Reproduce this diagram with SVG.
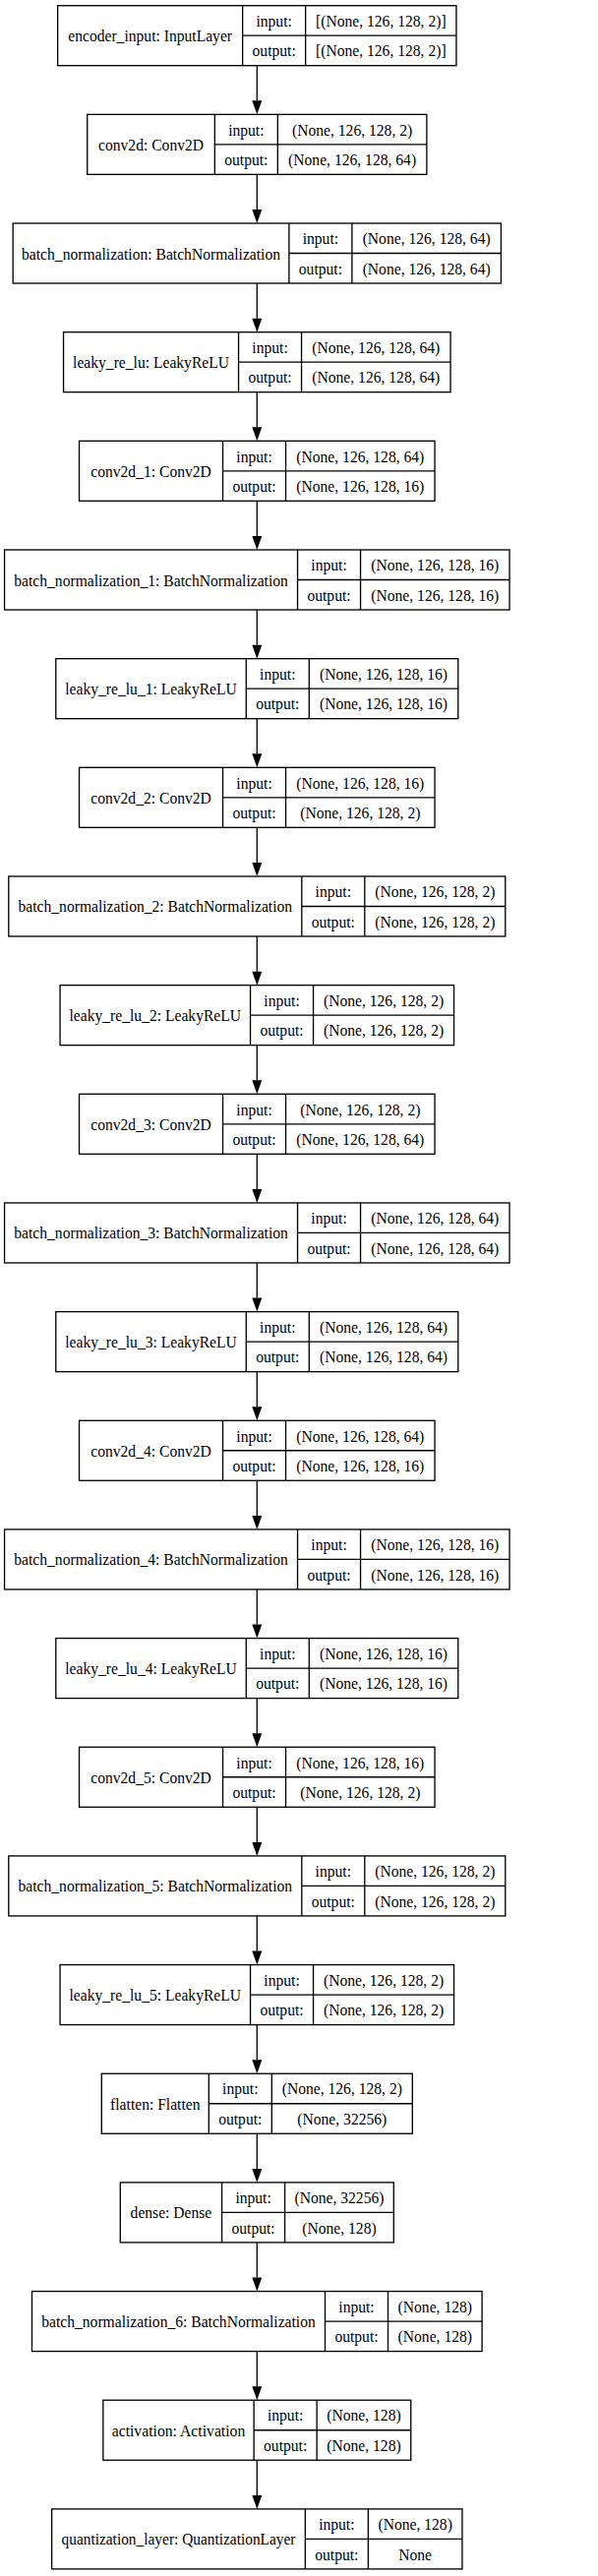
<svg xmlns="http://www.w3.org/2000/svg" width="608" height="2619" viewBox="0 0 608 2619">
<style>
rect{fill:#fff;stroke:#000;stroke-width:1.33}
g.n path{fill:none;stroke:#000;stroke-width:1.33}
text{font-family:"Liberation Serif","Times New Roman",serif;font-size:17px;text-anchor:middle;fill:#000}
#edges line{stroke:#000;stroke-width:1.33}
</style>
<defs>
<marker id="ah" markerUnits="userSpaceOnUse" viewBox="-1 -1 16 12" markerWidth="16" markerHeight="12" refX="0" refY="4.67" orient="auto">
<path d="M0,-0.3 L14,4.67 L0,9.64 Z" fill="#000"/>
</marker>
</defs>
<rect x="0" y="0" width="608" height="2619" style="stroke:none"/>
<g id="edges">
<line x1="261.3" y1="66.7" x2="261.3" y2="102.36" marker-end="url(#ah)"/>
<line x1="261.3" y1="177.36" x2="261.3" y2="213.02" marker-end="url(#ah)"/>
<line x1="261.3" y1="288.02" x2="261.3" y2="323.68" marker-end="url(#ah)"/>
<line x1="261.3" y1="398.68" x2="261.3" y2="434.34" marker-end="url(#ah)"/>
<line x1="261.3" y1="509.34" x2="261.3" y2="545.0" marker-end="url(#ah)"/>
<line x1="261.3" y1="620.0" x2="261.3" y2="655.66" marker-end="url(#ah)"/>
<line x1="261.3" y1="730.66" x2="261.3" y2="766.32" marker-end="url(#ah)"/>
<line x1="261.3" y1="841.32" x2="261.3" y2="876.98" marker-end="url(#ah)"/>
<line x1="261.3" y1="951.98" x2="261.3" y2="987.64" marker-end="url(#ah)"/>
<line x1="261.3" y1="1062.64" x2="261.3" y2="1098.3" marker-end="url(#ah)"/>
<line x1="261.3" y1="1173.3" x2="261.3" y2="1208.96" marker-end="url(#ah)"/>
<line x1="261.3" y1="1283.96" x2="261.3" y2="1319.62" marker-end="url(#ah)"/>
<line x1="261.3" y1="1394.62" x2="261.3" y2="1430.28" marker-end="url(#ah)"/>
<line x1="261.3" y1="1505.28" x2="261.3" y2="1540.94" marker-end="url(#ah)"/>
<line x1="261.3" y1="1615.94" x2="261.3" y2="1651.6" marker-end="url(#ah)"/>
<line x1="261.3" y1="1726.6" x2="261.3" y2="1762.26" marker-end="url(#ah)"/>
<line x1="261.3" y1="1837.26" x2="261.3" y2="1872.92" marker-end="url(#ah)"/>
<line x1="261.3" y1="1947.92" x2="261.3" y2="1983.58" marker-end="url(#ah)"/>
<line x1="261.3" y1="2058.58" x2="261.3" y2="2094.24" marker-end="url(#ah)"/>
<line x1="261.3" y1="2169.24" x2="261.3" y2="2204.9" marker-end="url(#ah)"/>
<line x1="261.3" y1="2279.9" x2="261.3" y2="2315.56" marker-end="url(#ah)"/>
<line x1="261.3" y1="2390.56" x2="261.3" y2="2426.22" marker-end="url(#ah)"/>
<line x1="261.3" y1="2501.22" x2="261.3" y2="2536.88" marker-end="url(#ah)"/>
</g>

<g id="encoder_input" class="n" transform="translate(0,5.7)">
<rect x="58.65" y="0" width="405.3" height="61"/>
<path d="M246.65,0V61M310.65,0V61M246.65,30.5H463.95"/>
<text x="152.65" y="36.5" textLength="166.8" lengthAdjust="spacingAndGlyphs">encoder_input: InputLayer</text>
<text x="278.65" y="21.25" textLength="36.4" lengthAdjust="spacingAndGlyphs">input:</text>
<text x="278.65" y="51.75" textLength="44.2" lengthAdjust="spacingAndGlyphs">output:</text>
<text x="387.3" y="21.25" textLength="132.6" lengthAdjust="spacingAndGlyphs">[(None, 126, 128, 2)]</text>
<text x="387.3" y="51.75" textLength="132.6" lengthAdjust="spacingAndGlyphs">[(None, 126, 128, 2)]</text>
</g>

<g id="conv2d" class="n" transform="translate(0,116.36)">
<rect x="88.75" y="0" width="345.1" height="61"/>
<path d="M218.35,0V61M282.35,0V61M218.35,30.5H433.85"/>
<text x="153.55" y="36.5" textLength="107" lengthAdjust="spacingAndGlyphs">conv2d: Conv2D</text>
<text x="250.35" y="21.25" textLength="36.4" lengthAdjust="spacingAndGlyphs">input:</text>
<text x="250.35" y="51.75" textLength="44.2" lengthAdjust="spacingAndGlyphs">output:</text>
<text x="358.1" y="21.25" textLength="122.2" lengthAdjust="spacingAndGlyphs">(None, 126, 128, 2)</text>
<text x="358.1" y="51.75" textLength="130" lengthAdjust="spacingAndGlyphs">(None, 126, 128, 64)</text>
</g>

<g id="batch_normalization" class="n" transform="translate(0,227.02)">
<rect x="13.2" y="0" width="496.2" height="61"/>
<path d="M293.9,0V61M357.9,0V61M293.9,30.5H509.4"/>
<text x="153.55" y="36.5" textLength="263" lengthAdjust="spacingAndGlyphs">batch_normalization: BatchNormalization</text>
<text x="325.9" y="21.25" textLength="36.4" lengthAdjust="spacingAndGlyphs">input:</text>
<text x="325.9" y="51.75" textLength="44.2" lengthAdjust="spacingAndGlyphs">output:</text>
<text x="433.65" y="21.25" textLength="130" lengthAdjust="spacingAndGlyphs">(None, 126, 128, 64)</text>
<text x="433.65" y="51.75" textLength="130" lengthAdjust="spacingAndGlyphs">(None, 126, 128, 64)</text>
</g>

<g id="leaky_re_lu" class="n" transform="translate(0,337.68)">
<rect x="64.55" y="0" width="393.5" height="61"/>
<path d="M242.55,0V61M306.55,0V61M242.55,30.5H458.05"/>
<text x="153.55" y="36.5" textLength="159" lengthAdjust="spacingAndGlyphs">leaky_re_lu: LeakyReLU</text>
<text x="274.55" y="21.25" textLength="36.4" lengthAdjust="spacingAndGlyphs">input:</text>
<text x="274.55" y="51.75" textLength="44.2" lengthAdjust="spacingAndGlyphs">output:</text>
<text x="382.3" y="21.25" textLength="130" lengthAdjust="spacingAndGlyphs">(None, 126, 128, 64)</text>
<text x="382.3" y="51.75" textLength="130" lengthAdjust="spacingAndGlyphs">(None, 126, 128, 64)</text>
</g>

<g id="conv2d_1" class="n" transform="translate(0,448.34)">
<rect x="80.55" y="0" width="361.5" height="61"/>
<path d="M226.55,0V61M290.55,0V61M226.55,30.5H442.05"/>
<text x="153.55" y="36.5" textLength="122.6" lengthAdjust="spacingAndGlyphs">conv2d_1: Conv2D</text>
<text x="258.55" y="21.25" textLength="36.4" lengthAdjust="spacingAndGlyphs">input:</text>
<text x="258.55" y="51.75" textLength="44.2" lengthAdjust="spacingAndGlyphs">output:</text>
<text x="366.3" y="21.25" textLength="130" lengthAdjust="spacingAndGlyphs">(None, 126, 128, 64)</text>
<text x="366.3" y="51.75" textLength="130" lengthAdjust="spacingAndGlyphs">(None, 126, 128, 16)</text>
</g>

<g id="batch_normalization_1" class="n" transform="translate(0,559)">
<rect x="4.55" y="0" width="513.5" height="61"/>
<path d="M302.55,0V61M366.55,0V61M302.55,30.5H518.05"/>
<text x="153.55" y="36.5" textLength="278.6" lengthAdjust="spacingAndGlyphs">batch_normalization_1: BatchNormalization</text>
<text x="334.55" y="21.25" textLength="36.4" lengthAdjust="spacingAndGlyphs">input:</text>
<text x="334.55" y="51.75" textLength="44.2" lengthAdjust="spacingAndGlyphs">output:</text>
<text x="442.3" y="21.25" textLength="130" lengthAdjust="spacingAndGlyphs">(None, 126, 128, 16)</text>
<text x="442.3" y="51.75" textLength="130" lengthAdjust="spacingAndGlyphs">(None, 126, 128, 16)</text>
</g>

<g id="leaky_re_lu_1" class="n" transform="translate(0,669.66)">
<rect x="56.8" y="0" width="409" height="61"/>
<path d="M250.3,0V61M314.3,0V61M250.3,30.5H465.8"/>
<text x="153.55" y="36.5" textLength="174.6" lengthAdjust="spacingAndGlyphs">leaky_re_lu_1: LeakyReLU</text>
<text x="282.3" y="21.25" textLength="36.4" lengthAdjust="spacingAndGlyphs">input:</text>
<text x="282.3" y="51.75" textLength="44.2" lengthAdjust="spacingAndGlyphs">output:</text>
<text x="390.05" y="21.25" textLength="130" lengthAdjust="spacingAndGlyphs">(None, 126, 128, 16)</text>
<text x="390.05" y="51.75" textLength="130" lengthAdjust="spacingAndGlyphs">(None, 126, 128, 16)</text>
</g>

<g id="conv2d_2" class="n" transform="translate(0,780.32)">
<rect x="80.55" y="0" width="361.5" height="61"/>
<path d="M226.55,0V61M290.55,0V61M226.55,30.5H442.05"/>
<text x="153.55" y="36.5" textLength="122.6" lengthAdjust="spacingAndGlyphs">conv2d_2: Conv2D</text>
<text x="258.55" y="21.25" textLength="36.4" lengthAdjust="spacingAndGlyphs">input:</text>
<text x="258.55" y="51.75" textLength="44.2" lengthAdjust="spacingAndGlyphs">output:</text>
<text x="366.3" y="21.25" textLength="130" lengthAdjust="spacingAndGlyphs">(None, 126, 128, 16)</text>
<text x="366.3" y="51.75" textLength="122.2" lengthAdjust="spacingAndGlyphs">(None, 126, 128, 2)</text>
</g>

<g id="batch_normalization_2" class="n" transform="translate(0,890.98)">
<rect x="8.8" y="0" width="505" height="61"/>
<path d="M306.8,0V61M370.8,0V61M306.8,30.5H513.8"/>
<text x="157.8" y="36.5" textLength="278.6" lengthAdjust="spacingAndGlyphs">batch_normalization_2: BatchNormalization</text>
<text x="338.8" y="21.25" textLength="36.4" lengthAdjust="spacingAndGlyphs">input:</text>
<text x="338.8" y="51.75" textLength="44.2" lengthAdjust="spacingAndGlyphs">output:</text>
<text x="442.3" y="21.25" textLength="122.2" lengthAdjust="spacingAndGlyphs">(None, 126, 128, 2)</text>
<text x="442.3" y="51.75" textLength="122.2" lengthAdjust="spacingAndGlyphs">(None, 126, 128, 2)</text>
</g>

<g id="leaky_re_lu_2" class="n" transform="translate(0,1001.64)">
<rect x="61.05" y="0" width="400.5" height="61"/>
<path d="M254.55,0V61M318.55,0V61M254.55,30.5H461.55"/>
<text x="157.8" y="36.5" textLength="174.6" lengthAdjust="spacingAndGlyphs">leaky_re_lu_2: LeakyReLU</text>
<text x="286.55" y="21.25" textLength="36.4" lengthAdjust="spacingAndGlyphs">input:</text>
<text x="286.55" y="51.75" textLength="44.2" lengthAdjust="spacingAndGlyphs">output:</text>
<text x="390.05" y="21.25" textLength="122.2" lengthAdjust="spacingAndGlyphs">(None, 126, 128, 2)</text>
<text x="390.05" y="51.75" textLength="122.2" lengthAdjust="spacingAndGlyphs">(None, 126, 128, 2)</text>
</g>

<g id="conv2d_3" class="n" transform="translate(0,1112.3)">
<rect x="80.55" y="0" width="361.5" height="61"/>
<path d="M226.55,0V61M290.55,0V61M226.55,30.5H442.05"/>
<text x="153.55" y="36.5" textLength="122.6" lengthAdjust="spacingAndGlyphs">conv2d_3: Conv2D</text>
<text x="258.55" y="21.25" textLength="36.4" lengthAdjust="spacingAndGlyphs">input:</text>
<text x="258.55" y="51.75" textLength="44.2" lengthAdjust="spacingAndGlyphs">output:</text>
<text x="366.3" y="21.25" textLength="122.2" lengthAdjust="spacingAndGlyphs">(None, 126, 128, 2)</text>
<text x="366.3" y="51.75" textLength="130" lengthAdjust="spacingAndGlyphs">(None, 126, 128, 64)</text>
</g>

<g id="batch_normalization_3" class="n" transform="translate(0,1222.96)">
<rect x="4.55" y="0" width="513.5" height="61"/>
<path d="M302.55,0V61M366.55,0V61M302.55,30.5H518.05"/>
<text x="153.55" y="36.5" textLength="278.6" lengthAdjust="spacingAndGlyphs">batch_normalization_3: BatchNormalization</text>
<text x="334.55" y="21.25" textLength="36.4" lengthAdjust="spacingAndGlyphs">input:</text>
<text x="334.55" y="51.75" textLength="44.2" lengthAdjust="spacingAndGlyphs">output:</text>
<text x="442.3" y="21.25" textLength="130" lengthAdjust="spacingAndGlyphs">(None, 126, 128, 64)</text>
<text x="442.3" y="51.75" textLength="130" lengthAdjust="spacingAndGlyphs">(None, 126, 128, 64)</text>
</g>

<g id="leaky_re_lu_3" class="n" transform="translate(0,1333.62)">
<rect x="56.8" y="0" width="409" height="61"/>
<path d="M250.3,0V61M314.3,0V61M250.3,30.5H465.8"/>
<text x="153.55" y="36.5" textLength="174.6" lengthAdjust="spacingAndGlyphs">leaky_re_lu_3: LeakyReLU</text>
<text x="282.3" y="21.25" textLength="36.4" lengthAdjust="spacingAndGlyphs">input:</text>
<text x="282.3" y="51.75" textLength="44.2" lengthAdjust="spacingAndGlyphs">output:</text>
<text x="390.05" y="21.25" textLength="130" lengthAdjust="spacingAndGlyphs">(None, 126, 128, 64)</text>
<text x="390.05" y="51.75" textLength="130" lengthAdjust="spacingAndGlyphs">(None, 126, 128, 64)</text>
</g>

<g id="conv2d_4" class="n" transform="translate(0,1444.28)">
<rect x="80.55" y="0" width="361.5" height="61"/>
<path d="M226.55,0V61M290.55,0V61M226.55,30.5H442.05"/>
<text x="153.55" y="36.5" textLength="122.6" lengthAdjust="spacingAndGlyphs">conv2d_4: Conv2D</text>
<text x="258.55" y="21.25" textLength="36.4" lengthAdjust="spacingAndGlyphs">input:</text>
<text x="258.55" y="51.75" textLength="44.2" lengthAdjust="spacingAndGlyphs">output:</text>
<text x="366.3" y="21.25" textLength="130" lengthAdjust="spacingAndGlyphs">(None, 126, 128, 64)</text>
<text x="366.3" y="51.75" textLength="130" lengthAdjust="spacingAndGlyphs">(None, 126, 128, 16)</text>
</g>

<g id="batch_normalization_4" class="n" transform="translate(0,1554.94)">
<rect x="4.55" y="0" width="513.5" height="61"/>
<path d="M302.55,0V61M366.55,0V61M302.55,30.5H518.05"/>
<text x="153.55" y="36.5" textLength="278.6" lengthAdjust="spacingAndGlyphs">batch_normalization_4: BatchNormalization</text>
<text x="334.55" y="21.25" textLength="36.4" lengthAdjust="spacingAndGlyphs">input:</text>
<text x="334.55" y="51.75" textLength="44.2" lengthAdjust="spacingAndGlyphs">output:</text>
<text x="442.3" y="21.25" textLength="130" lengthAdjust="spacingAndGlyphs">(None, 126, 128, 16)</text>
<text x="442.3" y="51.75" textLength="130" lengthAdjust="spacingAndGlyphs">(None, 126, 128, 16)</text>
</g>

<g id="leaky_re_lu_4" class="n" transform="translate(0,1665.6)">
<rect x="56.8" y="0" width="409" height="61"/>
<path d="M250.3,0V61M314.3,0V61M250.3,30.5H465.8"/>
<text x="153.55" y="36.5" textLength="174.6" lengthAdjust="spacingAndGlyphs">leaky_re_lu_4: LeakyReLU</text>
<text x="282.3" y="21.25" textLength="36.4" lengthAdjust="spacingAndGlyphs">input:</text>
<text x="282.3" y="51.75" textLength="44.2" lengthAdjust="spacingAndGlyphs">output:</text>
<text x="390.05" y="21.25" textLength="130" lengthAdjust="spacingAndGlyphs">(None, 126, 128, 16)</text>
<text x="390.05" y="51.75" textLength="130" lengthAdjust="spacingAndGlyphs">(None, 126, 128, 16)</text>
</g>

<g id="conv2d_5" class="n" transform="translate(0,1776.26)">
<rect x="80.55" y="0" width="361.5" height="61"/>
<path d="M226.55,0V61M290.55,0V61M226.55,30.5H442.05"/>
<text x="153.55" y="36.5" textLength="122.6" lengthAdjust="spacingAndGlyphs">conv2d_5: Conv2D</text>
<text x="258.55" y="21.25" textLength="36.4" lengthAdjust="spacingAndGlyphs">input:</text>
<text x="258.55" y="51.75" textLength="44.2" lengthAdjust="spacingAndGlyphs">output:</text>
<text x="366.3" y="21.25" textLength="130" lengthAdjust="spacingAndGlyphs">(None, 126, 128, 16)</text>
<text x="366.3" y="51.75" textLength="122.2" lengthAdjust="spacingAndGlyphs">(None, 126, 128, 2)</text>
</g>

<g id="batch_normalization_5" class="n" transform="translate(0,1886.92)">
<rect x="8.8" y="0" width="505" height="61"/>
<path d="M306.8,0V61M370.8,0V61M306.8,30.5H513.8"/>
<text x="157.8" y="36.5" textLength="278.6" lengthAdjust="spacingAndGlyphs">batch_normalization_5: BatchNormalization</text>
<text x="338.8" y="21.25" textLength="36.4" lengthAdjust="spacingAndGlyphs">input:</text>
<text x="338.8" y="51.75" textLength="44.2" lengthAdjust="spacingAndGlyphs">output:</text>
<text x="442.3" y="21.25" textLength="122.2" lengthAdjust="spacingAndGlyphs">(None, 126, 128, 2)</text>
<text x="442.3" y="51.75" textLength="122.2" lengthAdjust="spacingAndGlyphs">(None, 126, 128, 2)</text>
</g>

<g id="leaky_re_lu_5" class="n" transform="translate(0,1997.58)">
<rect x="61.05" y="0" width="400.5" height="61"/>
<path d="M254.55,0V61M318.55,0V61M254.55,30.5H461.55"/>
<text x="157.8" y="36.5" textLength="174.6" lengthAdjust="spacingAndGlyphs">leaky_re_lu_5: LeakyReLU</text>
<text x="286.55" y="21.25" textLength="36.4" lengthAdjust="spacingAndGlyphs">input:</text>
<text x="286.55" y="51.75" textLength="44.2" lengthAdjust="spacingAndGlyphs">output:</text>
<text x="390.05" y="21.25" textLength="122.2" lengthAdjust="spacingAndGlyphs">(None, 126, 128, 2)</text>
<text x="390.05" y="51.75" textLength="122.2" lengthAdjust="spacingAndGlyphs">(None, 126, 128, 2)</text>
</g>

<g id="flatten" class="n" transform="translate(0,2108.24)">
<rect x="103.3" y="0" width="316" height="61"/>
<path d="M212.3,0V61M276.3,0V61M212.3,30.5H419.3"/>
<text x="157.8" y="36.5" textLength="91.4" lengthAdjust="spacingAndGlyphs">flatten: Flatten</text>
<text x="244.3" y="21.25" textLength="36.4" lengthAdjust="spacingAndGlyphs">input:</text>
<text x="244.3" y="51.75" textLength="44.2" lengthAdjust="spacingAndGlyphs">output:</text>
<text x="347.8" y="21.25" textLength="122.2" lengthAdjust="spacingAndGlyphs">(None, 126, 128, 2)</text>
<text x="347.8" y="51.75" textLength="91" lengthAdjust="spacingAndGlyphs">(None, 32256)</text>
</g>

<g id="dense" class="n" transform="translate(0,2218.9)">
<rect x="122.3" y="0" width="278" height="61"/>
<path d="M225.6,0V61M289.6,0V61M225.6,30.5H400.3"/>
<text x="173.95" y="36.5" textLength="82.7" lengthAdjust="spacingAndGlyphs">dense: Dense</text>
<text x="257.6" y="21.25" textLength="36.4" lengthAdjust="spacingAndGlyphs">input:</text>
<text x="257.6" y="51.75" textLength="44.2" lengthAdjust="spacingAndGlyphs">output:</text>
<text x="344.95" y="21.25" textLength="91" lengthAdjust="spacingAndGlyphs">(None, 32256)</text>
<text x="344.95" y="51.75" textLength="75.4" lengthAdjust="spacingAndGlyphs">(None, 128)</text>
</g>

<g id="batch_normalization_6" class="n" transform="translate(0,2329.56)">
<rect x="32.5" y="0" width="457.6" height="61"/>
<path d="M330.5,0V61M394.5,0V61M330.5,30.5H490.1"/>
<text x="181.5" y="36.5" textLength="278.6" lengthAdjust="spacingAndGlyphs">batch_normalization_6: BatchNormalization</text>
<text x="362.5" y="21.25" textLength="36.4" lengthAdjust="spacingAndGlyphs">input:</text>
<text x="362.5" y="51.75" textLength="44.2" lengthAdjust="spacingAndGlyphs">output:</text>
<text x="442.3" y="21.25" textLength="75.4" lengthAdjust="spacingAndGlyphs">(None, 128)</text>
<text x="442.3" y="51.75" textLength="75.4" lengthAdjust="spacingAndGlyphs">(None, 128)</text>
</g>

<g id="activation" class="n" transform="translate(0,2440.22)">
<rect x="104.85" y="0" width="312.9" height="61"/>
<path d="M258.15,0V61M322.15,0V61M258.15,30.5H417.75"/>
<text x="181.5" y="36.5" textLength="135.6" lengthAdjust="spacingAndGlyphs">activation: Activation</text>
<text x="290.15" y="21.25" textLength="36.4" lengthAdjust="spacingAndGlyphs">input:</text>
<text x="290.15" y="51.75" textLength="44.2" lengthAdjust="spacingAndGlyphs">output:</text>
<text x="369.95" y="21.25" textLength="75.4" lengthAdjust="spacingAndGlyphs">(None, 128)</text>
<text x="369.95" y="51.75" textLength="75.4" lengthAdjust="spacingAndGlyphs">(None, 128)</text>
</g>

<g id="quantization_layer" class="n" transform="translate(0,2550.88)">
<rect x="52.65" y="0" width="417.3" height="61"/>
<path d="M310.35,0V61M374.35,0V61M310.35,30.5H469.95"/>
<text x="181.5" y="36.5" textLength="238" lengthAdjust="spacingAndGlyphs">quantization_layer: QuantizationLayer</text>
<text x="342.35" y="21.25" textLength="36.4" lengthAdjust="spacingAndGlyphs">input:</text>
<text x="342.35" y="51.75" textLength="44.2" lengthAdjust="spacingAndGlyphs">output:</text>
<text x="422.15" y="21.25" textLength="75.4" lengthAdjust="spacingAndGlyphs">(None, 128)</text>
<text x="422.15" y="51.75" textLength="33.8" lengthAdjust="spacingAndGlyphs">None</text>
</g>
</svg>
